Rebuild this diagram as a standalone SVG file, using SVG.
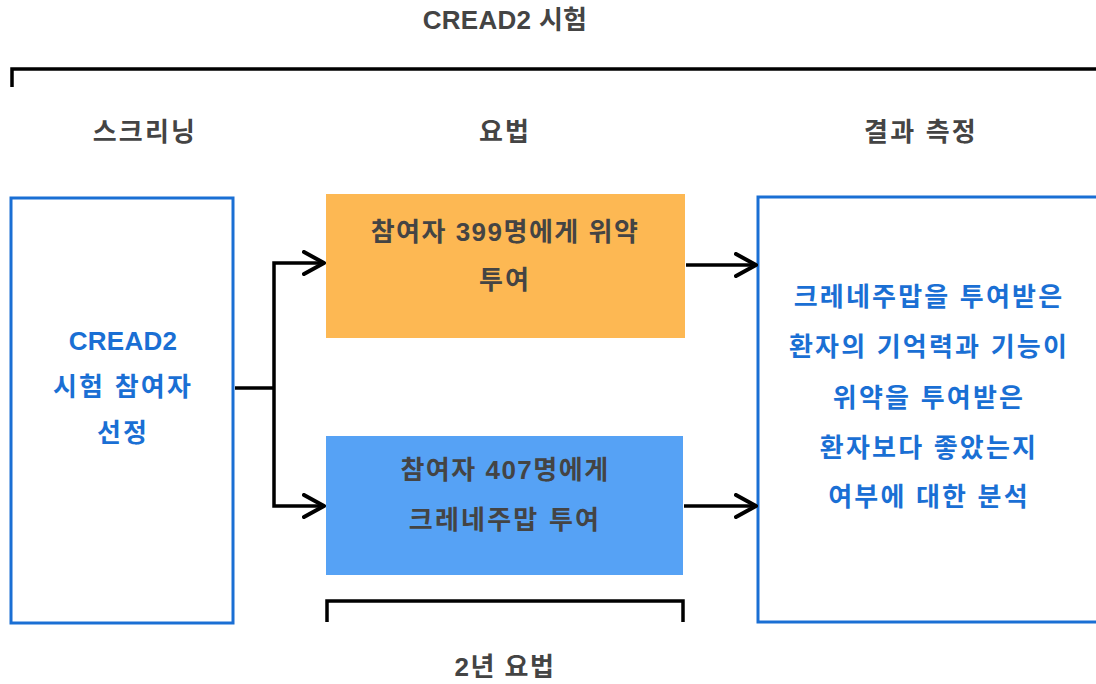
<svg xmlns="http://www.w3.org/2000/svg" width="1096" height="684" viewBox="0 0 1096 684">
<style>
text{font-family:"Liberation Sans","Noto Sans CJK KR",sans-serif;font-weight:bold;font-size:26px;text-anchor:middle;dominant-baseline:central;letter-spacing:1.5px}
.k{letter-spacing:2.2px}
.l{letter-spacing:0.3px}
.h{fill:#444}
.b{fill:#1a6fd4}
.ln{fill:none;stroke:#000;stroke-width:3.5;stroke-linejoin:miter}
.box{fill:#fff;stroke:#1a6fd4;stroke-width:3}
</style>
<defs>
<marker id="ah" viewBox="0 0 24 26" refX="22" refY="13" markerWidth="24" markerHeight="26" markerUnits="userSpaceOnUse" orient="auto">
<path d="M2,2 L22,13 L2,24" fill="none" stroke="#000" stroke-width="4" stroke-linejoin="round" stroke-linecap="round"/>
</marker>
</defs>
<rect width="1096" height="684" fill="#fff"/>
<g id="labels">
<text class="h l" x="505" y="20">CREAD2 시험</text>
<text class="h k" x="145" y="132">스크리닝</text>
<text class="h k" x="505" y="132">요법</text>
<text class="h k" x="921" y="132">결과 측정</text>
<text class="h" x="505" y="667">2년 요법</text>
</g>
<g id="brackets">
<path class="ln" d="M12,87 V69 H1096"/>
<path class="ln" d="M327,622 V601 H683 V622"/>
</g>
<g id="screening">
<rect class="box" x="11" y="198" width="222" height="425"/>
<text class="b l" x="123" y="341">CREAD2</text>
<text class="b k" x="123" y="387">시험 참여자</text>
<text class="b k" x="123" y="433">선정</text>
</g>
<g id="placebo">
<rect x="326" y="194" width="359" height="144" fill="#FDB853"/>
<text class="h" x="505" y="232">참여자 399명에게 위약</text>
<text class="h k" x="505" y="280">투여</text>
</g>
<g id="crenezumab">
<rect x="326" y="436" width="357" height="139" fill="#56A2F5"/>
<text class="h" x="505" y="470">참여자 407명에게</text>
<text class="h k" x="505" y="520">크레네주맙 투여</text>
</g>
<g id="outcome">
<rect class="box" x="758" y="197" width="345" height="425"/>
<text class="b k" x="929" y="297">크레네주맙을 투여받은</text>
<text class="b k" x="929" y="347">환자의 기억력과 기능이</text>
<text class="b k" x="929" y="398">위약을 투여받은</text>
<text class="b k" x="929" y="448">환자보다 좋았는지</text>
<text class="b k" x="929" y="497">여부에 대한 분석</text>
</g>
<g id="connectors">
<path class="ln" d="M235,388 H274"/>
<path class="ln" d="M274,388 V263 H324" marker-end="url(#ah)"/>
<path class="ln" d="M274,388 V506 H324" marker-end="url(#ah)"/>
<path class="ln" d="M686,265 H756" marker-end="url(#ah)"/>
<path class="ln" d="M684,506 H756" marker-end="url(#ah)"/>
</g>
</svg>
